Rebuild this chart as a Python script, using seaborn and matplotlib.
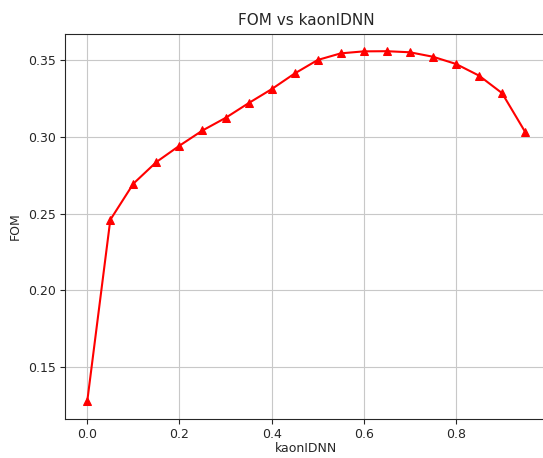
import numpy as np
import pandas as pd
import seaborn as sns
import matplotlib
matplotlib.use("Agg")
import matplotlib.pyplot as plt

cuts = [0.0, 0.05, 0.1, 0.15, 0.2, 0.25, 0.3, 0.35, 0.4, 0.45,
        0.5, 0.55, 0.6, 0.65, 0.7, 0.75, 0.8, 0.85, 0.9, 0.95]
fom = [0.128, 0.246, 0.2695, 0.2836, 0.2942, 0.3041, 0.3123, 0.3219, 0.331, 0.3412,
       0.350, 0.3543, 0.3556, 0.3557, 0.355, 0.3521, 0.3474, 0.3398, 0.3284, 0.3032]

df = pd.DataFrame({'kaonIDNN': cuts, 'FOM': fom})

sns.set_style('ticks')
plt.rcParams['font.family'] = ['DejaVu Sans']

fig, ax = plt.subplots(figsize=(5.43, 4.58), dpi=100)
# the original picture is cropped a bit, the right spine falls outside
fig.subplots_adjust(left=0.1204, right=1.0074, top=0.9264, bottom=0.086)

sns.lineplot(data=df, x='kaonIDNN', y='FOM', marker='^', color='red',
             markersize=6, markeredgecolor='red', linewidth=1.5, ax=ax)
ax.grid(True, color='#c8c8c8', linewidth=0.8)
ax.set_title('FOM vs kaonIDNN', fontsize=11)
ax.set_xlabel('kaonIDNN', fontsize=9, labelpad=0.5)
ax.set_ylabel('FOM', fontsize=9)
ax.tick_params(labelsize=9)
for s in ax.spines.values():
    s.set_linewidth(0.8)

fig.savefig('out.png')
plt.close()
